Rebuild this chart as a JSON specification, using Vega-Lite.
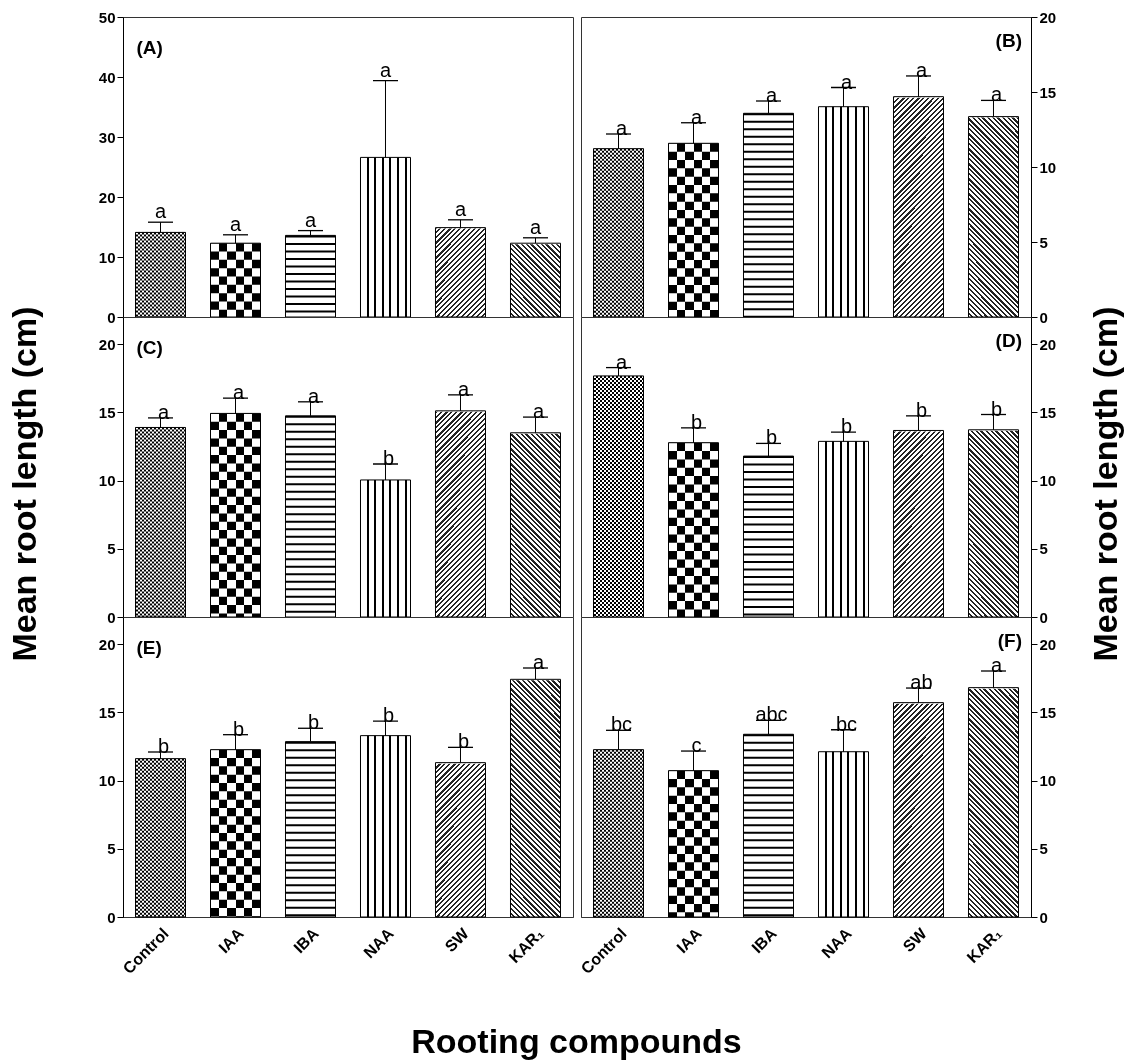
{
"$schema":"https://vega.github.io/schema/vega-lite/v6.json",
"background":"white",
"padding":{"left":8,"top":9,"right":5,"bottom":0},
"title":{"text":"Rooting compounds","orient":"bottom","anchor":"middle","fontSize":34,"offset":49,"dx":10},
"datasets":{
"L":[
{"p":"A","c":"Control","v":14.1,"e":15.8,"l":"a"},
{"p":"A","c":"IAA","v":12.3,"e":13.7,"l":"a"},
{"p":"A","c":"IBA","v":13.6,"e":14.4,"l":"a"},
{"p":"A","c":"NAA","v":26.6,"e":39.4,"l":"a"},
{"p":"A","c":"SW","v":14.9,"e":16.2,"l":"a"},
{"p":"A","c":"KAR₁","v":12.3,"e":13.2,"l":"a"},
{"p":"C","c":"Control","v":13.9,"e":14.6,"l":"a"},
{"p":"C","c":"IAA","v":14.93,"e":16.05,"l":"a"},
{"p":"C","c":"IBA","v":14.75,"e":15.78,"l":"a"},
{"p":"C","c":"NAA","v":10.05,"e":11.22,"l":"b"},
{"p":"C","c":"SW","v":15.12,"e":16.29,"l":"a"},
{"p":"C","c":"KAR₁","v":13.51,"e":14.66,"l":"a"},
{"p":"E","c":"Control","v":11.61,"e":12.1,"l":"b"},
{"p":"E","c":"IAA","v":12.27,"e":13.37,"l":"b"},
{"p":"E","c":"IBA","v":12.86,"e":13.84,"l":"b"},
{"p":"E","c":"NAA","v":13.3,"e":14.37,"l":"b"},
{"p":"E","c":"SW","v":11.32,"e":12.44,"l":"b"},
{"p":"E","c":"KAR₁","v":17.43,"e":18.26,"l":"a"},
{"p":"A","c":"Control","lab":"(A)","ymax":50},
{"p":"C","c":"Control","lab":"(C)","ymax":22},
{"p":"E","c":"Control","lab":"(E)","ymax":22}
],
"R":[
{"p":"B","c":"Control","v":11.22,"e":12.2,"l":"a"},
{"p":"B","c":"IAA","v":11.58,"e":12.95,"l":"a"},
{"p":"B","c":"IBA","v":13.58,"e":14.4,"l":"a"},
{"p":"B","c":"NAA","v":14.02,"e":15.3,"l":"a"},
{"p":"B","c":"SW","v":14.69,"e":16.07,"l":"a"},
{"p":"B","c":"KAR₁","v":13.36,"e":14.44,"l":"a"},
{"p":"D","c":"Control","v":17.68,"e":18.29,"l":"a"},
{"p":"D","c":"IAA","v":12.78,"e":13.87,"l":"b"},
{"p":"D","c":"IBA","v":11.8,"e":12.73,"l":"b"},
{"p":"D","c":"NAA","v":12.88,"e":13.56,"l":"b"},
{"p":"D","c":"SW","v":13.68,"e":14.75,"l":"b"},
{"p":"D","c":"KAR₁","v":13.73,"e":14.85,"l":"b"},
{"p":"F","c":"Control","v":12.27,"e":13.69,"l":"bc"},
{"p":"F","c":"IAA","v":10.73,"e":12.17,"l":"c"},
{"p":"F","c":"IBA","v":13.4,"e":14.42,"l":"abc"},
{"p":"F","c":"NAA","v":12.12,"e":13.73,"l":"bc"},
{"p":"F","c":"SW","v":15.72,"e":16.79,"l":"ab"},
{"p":"F","c":"KAR₁","v":16.82,"e":18.04,"l":"a"},
{"p":"B","c":"KAR₁","lab":"(B)","ymax":20},
{"p":"D","c":"KAR₁","lab":"(D)","ymax":22},
{"p":"F","c":"KAR₁","lab":"(F)","ymax":22}
]
},
"hconcat":[
{
"data":{"name":"L"},
"facet":{"row":{"field":"p","type":"nominal","sort":["A","C","E"],"header":{"labels":false,"title":null}}},
"spacing":0,
"bounds":"flush",
"resolve":{"scale":{"y":"independent"}},
"title":{"text":"Mean root length (cm)","orient":"left","anchor":"middle","fontSize":34,"offset":55,"dx":9},
"spec":{
"width":450,"height":300,
"encoding":{"x":{"field":"c","type":"nominal","sort":["Control","IAA","IBA","NAA","SW","KAR₁"],"title":null,"scale":{"paddingInner":0.3333,"paddingOuter":0.1667},"axis":{"labelAngle":-45,"ticks":false,"labelFontSize":16,"labelPadding":8}}},
"layer":[
{"transform":[{"filter":"datum.c==='SW'&&isValid(datum.v)"}],"mark":{"type":"bar","style":"psw"},"encoding":{"y":{"value":50},"y2":{"value":"height"}}},
{"transform":[{"filter":"datum.c==='KAR₁'&&isValid(datum.v)"}],"mark":{"type":"bar","style":"pkar"},"encoding":{"y":{"value":50},"y2":{"value":"height"}}},
{"transform":[{"filter":"(datum.c==='SW'||datum.c==='KAR₁')&&isValid(datum.v)"}],"mark":{"type":"bar","color":"white","stroke":"white","strokeWidth":2},"encoding":{"y":{"field":"v","type":"quantitative","title":null,"stack":null},"y2":{"value":50}}},
{"transform":[{"filter":"datum.c==='Control'&&isValid(datum.v)"}],"mark":{"type":"bar","style":"pcv"},"encoding":{"y":{"field":"v","type":"quantitative","title":null}}},
{"transform":[{"filter":"datum.c==='IAA'"}],"mark":{"type":"bar","style":"piv"},"encoding":{"y":{"field":"v","type":"quantitative","title":null}}},
{"transform":[{"filter":"datum.c==='NAA'"}],"mark":{"type":"bar","style":"pnaa"},"encoding":{"y":{"field":"v","type":"quantitative","title":null}}},
{"transform":[{"filter":"(datum.c==='Control'||datum.c==='IAA')&&isValid(datum.v)"}],"mark":{"type":"rule","strokeWidth":50,"color":"white","blend":"difference"},"encoding":{"y":{"field":"v","type":"quantitative","title":null},"y2":{"value":"height"},"strokeDash":{"field":"c","type":"nominal","scale":{"domain":["Control","IAA"],"range":[[2,2],[8.333,8.333]]},"legend":null}}},
{"transform":[{"filter":"datum.c==='IBA'"}],"mark":{"type":"rule","strokeWidth":50,"color":"black","strokeDash":[2,5.5]},"encoding":{"y":{"field":"v","type":"quantitative","title":null},"y2":{"value":"height"}}},
{"transform":[{"filter":"isValid(datum.v)"}],"mark":{"type":"bar","fill":"transparent","stroke":"black","strokeWidth":1},"encoding":{"y":{"field":"v","type":"quantitative","title":null,"scale":{"nice":false,"zero":true},"axis":{"orient":"left","tickCount":5}}}},
{"transform":[{"filter":"isValid(datum.v)"}],"mark":{"type":"rule","color":"black","strokeWidth":1},"encoding":{"y":{"field":"v","type":"quantitative","title":null},"y2":{"field":"e"}}},
{"transform":[{"filter":"isValid(datum.v)"}],"mark":{"type":"tick","orient":"horizontal","size":25,"thickness":1.3,"color":"black","opacity":1},"encoding":{"y":{"field":"e","type":"quantitative","title":null}}},
{"transform":[{"filter":"isValid(datum.v)"}],"mark":{"type":"text","fontSize":20,"baseline":"alphabetic","dy":{"expr":"datum.p==='A'?-4:1"},"dx":{"expr":"datum.p==='A'?0:3"}},"encoding":{"y":{"field":"e","type":"quantitative","title":null},"text":{"field":"l","type":"nominal"}}},
{"transform":[{"filter":"isValid(datum.ymax)"}],"mark":{"type":"text","fontSize":19,"fontWeight":"bold","align":"left","baseline":"middle","dx":-24,"dy":30.5},"encoding":{"y":{"field":"ymax","type":"quantitative","title":null},"text":{"field":"lab","type":"nominal"}}}
]
}
},
{
"data":{"name":"R"},
"facet":{"row":{"field":"p","type":"nominal","sort":["B","D","F"],"header":{"labels":false,"title":null}}},
"spacing":0,
"bounds":"flush",
"resolve":{"scale":{"y":"independent"}},
"title":{"text":"Mean root length (cm)","orient":"right","anchor":"middle","fontSize":34,"offset":0,"angle":-90,"baseline":"top","dx":9},
"spec":{
"width":450,"height":300,
"encoding":{"x":{"field":"c","type":"nominal","sort":["Control","IAA","IBA","NAA","SW","KAR₁"],"title":null,"scale":{"paddingInner":0.3333,"paddingOuter":0.1667},"axis":{"labelAngle":-45,"ticks":false,"labelFontSize":16,"labelPadding":8}}},
"layer":[
{"transform":[{"filter":"datum.c==='SW'&&isValid(datum.v)"}],"mark":{"type":"bar","style":"psw"},"encoding":{"y":{"value":50},"y2":{"value":"height"}}},
{"transform":[{"filter":"datum.c==='KAR₁'&&isValid(datum.v)"}],"mark":{"type":"bar","style":"pkar"},"encoding":{"y":{"value":50},"y2":{"value":"height"}}},
{"transform":[{"filter":"(datum.c==='SW'||datum.c==='KAR₁')&&isValid(datum.v)"}],"mark":{"type":"bar","color":"white","stroke":"white","strokeWidth":2},"encoding":{"y":{"field":"v","type":"quantitative","title":null,"stack":null},"y2":{"value":50}}},
{"transform":[{"filter":"datum.c==='Control'&&isValid(datum.v)"}],"mark":{"type":"bar","style":"pcv"},"encoding":{"y":{"field":"v","type":"quantitative","title":null}}},
{"transform":[{"filter":"datum.c==='IAA'"}],"mark":{"type":"bar","style":"piv"},"encoding":{"y":{"field":"v","type":"quantitative","title":null}}},
{"transform":[{"filter":"datum.c==='NAA'"}],"mark":{"type":"bar","style":"pnaa"},"encoding":{"y":{"field":"v","type":"quantitative","title":null}}},
{"transform":[{"filter":"(datum.c==='Control'||datum.c==='IAA')&&isValid(datum.v)"}],"mark":{"type":"rule","strokeWidth":50,"color":"white","blend":"difference"},"encoding":{"y":{"field":"v","type":"quantitative","title":null},"y2":{"value":"height"},"strokeDash":{"field":"c","type":"nominal","scale":{"domain":["Control","IAA"],"range":[[2,2],[8.333,8.333]]},"legend":null}}},
{"transform":[{"filter":"datum.c==='IBA'"}],"mark":{"type":"rule","strokeWidth":50,"color":"black","strokeDash":[2,5.5]},"encoding":{"y":{"field":"v","type":"quantitative","title":null},"y2":{"value":"height"}}},
{"transform":[{"filter":"isValid(datum.v)"}],"mark":{"type":"bar","fill":"transparent","stroke":"black","strokeWidth":1},"encoding":{"y":{"field":"v","type":"quantitative","title":null,"scale":{"nice":false,"zero":true},"axis":{"orient":"right","tickCount":5}}}},
{"transform":[{"filter":"isValid(datum.v)"}],"mark":{"type":"rule","color":"black","strokeWidth":1},"encoding":{"y":{"field":"v","type":"quantitative","title":null},"y2":{"field":"e"}}},
{"transform":[{"filter":"isValid(datum.v)"}],"mark":{"type":"tick","orient":"horizontal","size":25,"thickness":1.3,"color":"black","opacity":1},"encoding":{"y":{"field":"e","type":"quantitative","title":null}}},
{"transform":[{"filter":"isValid(datum.v)"}],"mark":{"type":"text","fontSize":20,"baseline":"alphabetic","dy":1,"dx":3},"encoding":{"y":{"field":"e","type":"quantitative","title":null},"text":{"field":"l","type":"nominal"}}},
{"transform":[{"filter":"isValid(datum.ymax)"}],"mark":{"type":"text","fontSize":19,"fontWeight":"bold","align":"right","baseline":"middle","dx":28.5,"dy":23.5},"encoding":{"y":{"field":"ymax","type":"quantitative","title":null},"text":{"field":"lab","type":"nominal"}}}
]
}
}
],
"spacing":3,
"config":{
"font":"Liberation Sans",
"view":{"stroke":"#333","strokeWidth":1,"fill":"white"},
"axis":{"labelFont":"Liberation Sans","labelFontWeight":"bold","labelFontSize":15,"labelColor":"black","tickColor":"black","domainColor":"black","tickSize":6,"labelPadding":2,"grid":false,"titleFont":"Liberation Sans","titleFontWeight":"bold","titleColor":"black"},
"text":{"font":"Liberation Sans","color":"black"},
"title":{"font":"Liberation Sans","fontWeight":"bold","color":"black"},
"style":{
"pcv":{"color":{"gradient":"linear","x1":0,"y1":0,"x2":1,"y2":0,"stops":[{"offset":0,"color":"#000"},{"offset":0.04,"color":"#000"},{"offset":0.04,"color":"#fff"},{"offset":0.08,"color":"#fff"},{"offset":0.08,"color":"#000"},{"offset":0.12,"color":"#000"},{"offset":0.12,"color":"#fff"},{"offset":0.16,"color":"#fff"},{"offset":0.16,"color":"#000"},{"offset":0.2,"color":"#000"},{"offset":0.2,"color":"#fff"},{"offset":0.24,"color":"#fff"},{"offset":0.24,"color":"#000"},{"offset":0.28,"color":"#000"},{"offset":0.28,"color":"#fff"},{"offset":0.32,"color":"#fff"},{"offset":0.32,"color":"#000"},{"offset":0.36,"color":"#000"},{"offset":0.36,"color":"#fff"},{"offset":0.4,"color":"#fff"},{"offset":0.4,"color":"#000"},{"offset":0.44,"color":"#000"},{"offset":0.44,"color":"#fff"},{"offset":0.48,"color":"#fff"},{"offset":0.48,"color":"#000"},{"offset":0.52,"color":"#000"},{"offset":0.52,"color":"#fff"},{"offset":0.56,"color":"#fff"},{"offset":0.56,"color":"#000"},{"offset":0.6,"color":"#000"},{"offset":0.6,"color":"#fff"},{"offset":0.64,"color":"#fff"},{"offset":0.64,"color":"#000"},{"offset":0.68,"color":"#000"},{"offset":0.68,"color":"#fff"},{"offset":0.72,"color":"#fff"},{"offset":0.72,"color":"#000"},{"offset":0.76,"color":"#000"},{"offset":0.76,"color":"#fff"},{"offset":0.8,"color":"#fff"},{"offset":0.8,"color":"#000"},{"offset":0.84,"color":"#000"},{"offset":0.84,"color":"#fff"},{"offset":0.88,"color":"#fff"},{"offset":0.88,"color":"#000"},{"offset":0.92,"color":"#000"},{"offset":0.92,"color":"#fff"},{"offset":0.96,"color":"#fff"},{"offset":0.96,"color":"#000"},{"offset":1,"color":"#000"}]}},
"piv":{"color":{"gradient":"linear","x1":0,"y1":0,"x2":1,"y2":0,"stops":[{"offset":0,"color":"#000"},{"offset":0.1667,"color":"#000"},{"offset":0.1667,"color":"#fff"},{"offset":0.3333,"color":"#fff"},{"offset":0.3333,"color":"#000"},{"offset":0.5,"color":"#000"},{"offset":0.5,"color":"#fff"},{"offset":0.6667,"color":"#fff"},{"offset":0.6667,"color":"#000"},{"offset":0.8333,"color":"#000"},{"offset":0.8333,"color":"#fff"},{"offset":1,"color":"#fff"}]}},
"pnaa":{"color":{"gradient":"linear","x1":0,"y1":0,"x2":1,"y2":0,"stops":[{"offset":0,"color":"#fff"},{"offset":0.13,"color":"#fff"},{"offset":0.13,"color":"#000"},{"offset":0.17,"color":"#000"},{"offset":0.17,"color":"#fff"},{"offset":0.28,"color":"#fff"},{"offset":0.28,"color":"#000"},{"offset":0.32,"color":"#000"},{"offset":0.32,"color":"#fff"},{"offset":0.43,"color":"#fff"},{"offset":0.43,"color":"#000"},{"offset":0.47,"color":"#000"},{"offset":0.47,"color":"#fff"},{"offset":0.58,"color":"#fff"},{"offset":0.58,"color":"#000"},{"offset":0.62,"color":"#000"},{"offset":0.62,"color":"#fff"},{"offset":0.73,"color":"#fff"},{"offset":0.73,"color":"#000"},{"offset":0.77,"color":"#000"},{"offset":0.77,"color":"#fff"},{"offset":0.88,"color":"#fff"},{"offset":0.88,"color":"#000"},{"offset":0.92,"color":"#000"},{"offset":0.92,"color":"#fff"},{"offset":1,"color":"#fff"}]}},
"psw":{"color":{"gradient":"linear","x1":0,"y1":0,"x2":0.2308,"y2":1.1538,"stops":[{"offset":0,"color":"#fff"},
{"offset":0.1,"color":"#fff"},{"offset":0.1,"color":"#222"},{"offset":0.1083,"color":"#222"},{"offset":0.1083,"color":"#fff"},
{"offset":0.1167,"color":"#fff"},{"offset":0.1167,"color":"#222"},{"offset":0.125,"color":"#222"},{"offset":0.125,"color":"#fff"},
{"offset":0.1333,"color":"#fff"},{"offset":0.1333,"color":"#222"},{"offset":0.1417,"color":"#222"},{"offset":0.1417,"color":"#fff"},
{"offset":0.15,"color":"#fff"},{"offset":0.15,"color":"#222"},{"offset":0.1583,"color":"#222"},{"offset":0.1583,"color":"#fff"},
{"offset":0.1667,"color":"#fff"},{"offset":0.1667,"color":"#222"},{"offset":0.175,"color":"#222"},{"offset":0.175,"color":"#fff"},
{"offset":0.1833,"color":"#fff"},{"offset":0.1833,"color":"#222"},{"offset":0.1917,"color":"#222"},{"offset":0.1917,"color":"#fff"},
{"offset":0.2,"color":"#fff"},{"offset":0.2,"color":"#222"},{"offset":0.2083,"color":"#222"},{"offset":0.2083,"color":"#fff"},
{"offset":0.2167,"color":"#fff"},{"offset":0.2167,"color":"#222"},{"offset":0.225,"color":"#222"},{"offset":0.225,"color":"#fff"},
{"offset":0.2333,"color":"#fff"},{"offset":0.2333,"color":"#222"},{"offset":0.2417,"color":"#222"},{"offset":0.2417,"color":"#fff"},
{"offset":0.25,"color":"#fff"},{"offset":0.25,"color":"#222"},{"offset":0.2583,"color":"#222"},{"offset":0.2583,"color":"#fff"},
{"offset":0.2667,"color":"#fff"},{"offset":0.2667,"color":"#222"},{"offset":0.275,"color":"#222"},{"offset":0.275,"color":"#fff"},
{"offset":0.2833,"color":"#fff"},{"offset":0.2833,"color":"#222"},{"offset":0.2917,"color":"#222"},{"offset":0.2917,"color":"#fff"},
{"offset":0.3,"color":"#fff"},{"offset":0.3,"color":"#222"},{"offset":0.3083,"color":"#222"},{"offset":0.3083,"color":"#fff"},
{"offset":0.3167,"color":"#fff"},{"offset":0.3167,"color":"#222"},{"offset":0.325,"color":"#222"},{"offset":0.325,"color":"#fff"},
{"offset":0.3333,"color":"#fff"},{"offset":0.3333,"color":"#222"},{"offset":0.3417,"color":"#222"},{"offset":0.3417,"color":"#fff"},
{"offset":0.35,"color":"#fff"},{"offset":0.35,"color":"#222"},{"offset":0.3583,"color":"#222"},{"offset":0.3583,"color":"#fff"},
{"offset":0.3667,"color":"#fff"},{"offset":0.3667,"color":"#222"},{"offset":0.375,"color":"#222"},{"offset":0.375,"color":"#fff"},
{"offset":0.3833,"color":"#fff"},{"offset":0.3833,"color":"#222"},{"offset":0.3917,"color":"#222"},{"offset":0.3917,"color":"#fff"},
{"offset":0.4,"color":"#fff"},{"offset":0.4,"color":"#222"},{"offset":0.4083,"color":"#222"},{"offset":0.4083,"color":"#fff"},
{"offset":0.4167,"color":"#fff"},{"offset":0.4167,"color":"#222"},{"offset":0.425,"color":"#222"},{"offset":0.425,"color":"#fff"},
{"offset":0.4333,"color":"#fff"},{"offset":0.4333,"color":"#222"},{"offset":0.4417,"color":"#222"},{"offset":0.4417,"color":"#fff"},
{"offset":0.45,"color":"#fff"},{"offset":0.45,"color":"#222"},{"offset":0.4583,"color":"#222"},{"offset":0.4583,"color":"#fff"},
{"offset":0.4667,"color":"#fff"},{"offset":0.4667,"color":"#222"},{"offset":0.475,"color":"#222"},{"offset":0.475,"color":"#fff"},
{"offset":0.4833,"color":"#fff"},{"offset":0.4833,"color":"#222"},{"offset":0.4917,"color":"#222"},{"offset":0.4917,"color":"#fff"},
{"offset":0.5,"color":"#fff"},{"offset":0.5,"color":"#222"},{"offset":0.5083,"color":"#222"},{"offset":0.5083,"color":"#fff"},
{"offset":0.5167,"color":"#fff"},{"offset":0.5167,"color":"#222"},{"offset":0.525,"color":"#222"},{"offset":0.525,"color":"#fff"},
{"offset":0.5333,"color":"#fff"},{"offset":0.5333,"color":"#222"},{"offset":0.5417,"color":"#222"},{"offset":0.5417,"color":"#fff"},
{"offset":0.55,"color":"#fff"},{"offset":0.55,"color":"#222"},{"offset":0.5583,"color":"#222"},{"offset":0.5583,"color":"#fff"},
{"offset":0.5667,"color":"#fff"},{"offset":0.5667,"color":"#222"},{"offset":0.575,"color":"#222"},{"offset":0.575,"color":"#fff"},
{"offset":0.5833,"color":"#fff"},{"offset":0.5833,"color":"#222"},{"offset":0.5917,"color":"#222"},{"offset":0.5917,"color":"#fff"},
{"offset":0.6,"color":"#fff"},{"offset":0.6,"color":"#222"},{"offset":0.6083,"color":"#222"},{"offset":0.6083,"color":"#fff"},
{"offset":0.6167,"color":"#fff"},{"offset":0.6167,"color":"#222"},{"offset":0.625,"color":"#222"},{"offset":0.625,"color":"#fff"},
{"offset":0.6333,"color":"#fff"},{"offset":0.6333,"color":"#222"},{"offset":0.6417,"color":"#222"},{"offset":0.6417,"color":"#fff"},
{"offset":0.65,"color":"#fff"},{"offset":0.65,"color":"#222"},{"offset":0.6583,"color":"#222"},{"offset":0.6583,"color":"#fff"},
{"offset":0.6667,"color":"#fff"},{"offset":0.6667,"color":"#222"},{"offset":0.675,"color":"#222"},{"offset":0.675,"color":"#fff"},
{"offset":0.6833,"color":"#fff"},{"offset":0.6833,"color":"#222"},{"offset":0.6917,"color":"#222"},{"offset":0.6917,"color":"#fff"},
{"offset":0.7,"color":"#fff"},{"offset":0.7,"color":"#222"},{"offset":0.7083,"color":"#222"},{"offset":0.7083,"color":"#fff"},
{"offset":0.7167,"color":"#fff"},{"offset":0.7167,"color":"#222"},{"offset":0.725,"color":"#222"},{"offset":0.725,"color":"#fff"},
{"offset":0.7333,"color":"#fff"},{"offset":0.7333,"color":"#222"},{"offset":0.7417,"color":"#222"},{"offset":0.7417,"color":"#fff"},
{"offset":0.75,"color":"#fff"},{"offset":0.75,"color":"#222"},{"offset":0.7583,"color":"#222"},{"offset":0.7583,"color":"#fff"},
{"offset":0.7667,"color":"#fff"},{"offset":0.7667,"color":"#222"},{"offset":0.775,"color":"#222"},{"offset":0.775,"color":"#fff"},
{"offset":0.7833,"color":"#fff"},{"offset":0.7833,"color":"#222"},{"offset":0.7917,"color":"#222"},{"offset":0.7917,"color":"#fff"},
{"offset":0.8,"color":"#fff"},{"offset":0.8,"color":"#222"},{"offset":0.8083,"color":"#222"},{"offset":0.8083,"color":"#fff"},
{"offset":0.8167,"color":"#fff"},{"offset":0.8167,"color":"#222"},{"offset":0.825,"color":"#222"},{"offset":0.825,"color":"#fff"},
{"offset":0.8333,"color":"#fff"},{"offset":0.8333,"color":"#222"},{"offset":0.8417,"color":"#222"},{"offset":0.8417,"color":"#fff"},
{"offset":0.85,"color":"#fff"},{"offset":0.85,"color":"#222"},{"offset":0.8583,"color":"#222"},{"offset":0.8583,"color":"#fff"},
{"offset":0.8667,"color":"#fff"},{"offset":0.8667,"color":"#222"},{"offset":0.875,"color":"#222"},{"offset":0.875,"color":"#fff"},
{"offset":0.8833,"color":"#fff"},{"offset":0.8833,"color":"#222"},{"offset":0.8917,"color":"#222"},{"offset":0.8917,"color":"#fff"},
{"offset":0.9,"color":"#fff"},{"offset":0.9,"color":"#222"},{"offset":0.9083,"color":"#222"},{"offset":0.9083,"color":"#fff"},
{"offset":0.9167,"color":"#fff"},{"offset":0.9167,"color":"#222"},{"offset":0.925,"color":"#222"},{"offset":0.925,"color":"#fff"},
{"offset":0.9333,"color":"#fff"},{"offset":0.9333,"color":"#222"},{"offset":0.9417,"color":"#222"},{"offset":0.9417,"color":"#fff"},
{"offset":0.95,"color":"#fff"},{"offset":0.95,"color":"#222"},{"offset":0.9583,"color":"#222"},{"offset":0.9583,"color":"#fff"},
{"offset":0.9667,"color":"#fff"},{"offset":0.9667,"color":"#222"},{"offset":0.975,"color":"#222"},{"offset":0.975,"color":"#fff"},
{"offset":0.9833,"color":"#fff"},{"offset":0.9833,"color":"#222"},{"offset":0.9917,"color":"#222"},{"offset":0.9917,"color":"#fff"},
{"offset":1,"color":"#fff"}]}},
"pkar":{"color":{"gradient":"linear","x1":1,"y1":0,"x2":0.7692,"y2":1.1538,"stops":[{"offset":0,"color":"#fff"},
{"offset":0.0333,"color":"#fff"},{"offset":0.0333,"color":"#222"},{"offset":0.0417,"color":"#222"},{"offset":0.0417,"color":"#fff"},
{"offset":0.05,"color":"#fff"},{"offset":0.05,"color":"#222"},{"offset":0.0583,"color":"#222"},{"offset":0.0583,"color":"#fff"},
{"offset":0.0667,"color":"#fff"},{"offset":0.0667,"color":"#222"},{"offset":0.075,"color":"#222"},{"offset":0.075,"color":"#fff"},
{"offset":0.0833,"color":"#fff"},{"offset":0.0833,"color":"#222"},{"offset":0.0917,"color":"#222"},{"offset":0.0917,"color":"#fff"},
{"offset":0.1,"color":"#fff"},{"offset":0.1,"color":"#222"},{"offset":0.1083,"color":"#222"},{"offset":0.1083,"color":"#fff"},
{"offset":0.1167,"color":"#fff"},{"offset":0.1167,"color":"#222"},{"offset":0.125,"color":"#222"},{"offset":0.125,"color":"#fff"},
{"offset":0.1333,"color":"#fff"},{"offset":0.1333,"color":"#222"},{"offset":0.1417,"color":"#222"},{"offset":0.1417,"color":"#fff"},
{"offset":0.15,"color":"#fff"},{"offset":0.15,"color":"#222"},{"offset":0.1583,"color":"#222"},{"offset":0.1583,"color":"#fff"},
{"offset":0.1667,"color":"#fff"},{"offset":0.1667,"color":"#222"},{"offset":0.175,"color":"#222"},{"offset":0.175,"color":"#fff"},
{"offset":0.1833,"color":"#fff"},{"offset":0.1833,"color":"#222"},{"offset":0.1917,"color":"#222"},{"offset":0.1917,"color":"#fff"},
{"offset":0.2,"color":"#fff"},{"offset":0.2,"color":"#222"},{"offset":0.2083,"color":"#222"},{"offset":0.2083,"color":"#fff"},
{"offset":0.2167,"color":"#fff"},{"offset":0.2167,"color":"#222"},{"offset":0.225,"color":"#222"},{"offset":0.225,"color":"#fff"},
{"offset":0.2333,"color":"#fff"},{"offset":0.2333,"color":"#222"},{"offset":0.2417,"color":"#222"},{"offset":0.2417,"color":"#fff"},
{"offset":0.25,"color":"#fff"},{"offset":0.25,"color":"#222"},{"offset":0.2583,"color":"#222"},{"offset":0.2583,"color":"#fff"},
{"offset":0.2667,"color":"#fff"},{"offset":0.2667,"color":"#222"},{"offset":0.275,"color":"#222"},{"offset":0.275,"color":"#fff"},
{"offset":0.2833,"color":"#fff"},{"offset":0.2833,"color":"#222"},{"offset":0.2917,"color":"#222"},{"offset":0.2917,"color":"#fff"},
{"offset":0.3,"color":"#fff"},{"offset":0.3,"color":"#222"},{"offset":0.3083,"color":"#222"},{"offset":0.3083,"color":"#fff"},
{"offset":0.3167,"color":"#fff"},{"offset":0.3167,"color":"#222"},{"offset":0.325,"color":"#222"},{"offset":0.325,"color":"#fff"},
{"offset":0.3333,"color":"#fff"},{"offset":0.3333,"color":"#222"},{"offset":0.3417,"color":"#222"},{"offset":0.3417,"color":"#fff"},
{"offset":0.35,"color":"#fff"},{"offset":0.35,"color":"#222"},{"offset":0.3583,"color":"#222"},{"offset":0.3583,"color":"#fff"},
{"offset":0.3667,"color":"#fff"},{"offset":0.3667,"color":"#222"},{"offset":0.375,"color":"#222"},{"offset":0.375,"color":"#fff"},
{"offset":0.3833,"color":"#fff"},{"offset":0.3833,"color":"#222"},{"offset":0.3917,"color":"#222"},{"offset":0.3917,"color":"#fff"},
{"offset":0.4,"color":"#fff"},{"offset":0.4,"color":"#222"},{"offset":0.4083,"color":"#222"},{"offset":0.4083,"color":"#fff"},
{"offset":0.4167,"color":"#fff"},{"offset":0.4167,"color":"#222"},{"offset":0.425,"color":"#222"},{"offset":0.425,"color":"#fff"},
{"offset":0.4333,"color":"#fff"},{"offset":0.4333,"color":"#222"},{"offset":0.4417,"color":"#222"},{"offset":0.4417,"color":"#fff"},
{"offset":0.45,"color":"#fff"},{"offset":0.45,"color":"#222"},{"offset":0.4583,"color":"#222"},{"offset":0.4583,"color":"#fff"},
{"offset":0.4667,"color":"#fff"},{"offset":0.4667,"color":"#222"},{"offset":0.475,"color":"#222"},{"offset":0.475,"color":"#fff"},
{"offset":0.4833,"color":"#fff"},{"offset":0.4833,"color":"#222"},{"offset":0.4917,"color":"#222"},{"offset":0.4917,"color":"#fff"},
{"offset":0.5,"color":"#fff"},{"offset":0.5,"color":"#222"},{"offset":0.5083,"color":"#222"},{"offset":0.5083,"color":"#fff"},
{"offset":0.5167,"color":"#fff"},{"offset":0.5167,"color":"#222"},{"offset":0.525,"color":"#222"},{"offset":0.525,"color":"#fff"},
{"offset":0.5333,"color":"#fff"},{"offset":0.5333,"color":"#222"},{"offset":0.5417,"color":"#222"},{"offset":0.5417,"color":"#fff"},
{"offset":0.55,"color":"#fff"},{"offset":0.55,"color":"#222"},{"offset":0.5583,"color":"#222"},{"offset":0.5583,"color":"#fff"},
{"offset":0.5667,"color":"#fff"},{"offset":0.5667,"color":"#222"},{"offset":0.575,"color":"#222"},{"offset":0.575,"color":"#fff"},
{"offset":0.5833,"color":"#fff"},{"offset":0.5833,"color":"#222"},{"offset":0.5917,"color":"#222"},{"offset":0.5917,"color":"#fff"},
{"offset":0.6,"color":"#fff"},{"offset":0.6,"color":"#222"},{"offset":0.6083,"color":"#222"},{"offset":0.6083,"color":"#fff"},
{"offset":0.6167,"color":"#fff"},{"offset":0.6167,"color":"#222"},{"offset":0.625,"color":"#222"},{"offset":0.625,"color":"#fff"},
{"offset":0.6333,"color":"#fff"},{"offset":0.6333,"color":"#222"},{"offset":0.6417,"color":"#222"},{"offset":0.6417,"color":"#fff"},
{"offset":0.65,"color":"#fff"},{"offset":0.65,"color":"#222"},{"offset":0.6583,"color":"#222"},{"offset":0.6583,"color":"#fff"},
{"offset":0.6667,"color":"#fff"},{"offset":0.6667,"color":"#222"},{"offset":0.675,"color":"#222"},{"offset":0.675,"color":"#fff"},
{"offset":0.6833,"color":"#fff"},{"offset":0.6833,"color":"#222"},{"offset":0.6917,"color":"#222"},{"offset":0.6917,"color":"#fff"},
{"offset":0.7,"color":"#fff"},{"offset":0.7,"color":"#222"},{"offset":0.7083,"color":"#222"},{"offset":0.7083,"color":"#fff"},
{"offset":0.7167,"color":"#fff"},{"offset":0.7167,"color":"#222"},{"offset":0.725,"color":"#222"},{"offset":0.725,"color":"#fff"},
{"offset":0.7333,"color":"#fff"},{"offset":0.7333,"color":"#222"},{"offset":0.7417,"color":"#222"},{"offset":0.7417,"color":"#fff"},
{"offset":0.75,"color":"#fff"},{"offset":0.75,"color":"#222"},{"offset":0.7583,"color":"#222"},{"offset":0.7583,"color":"#fff"},
{"offset":0.7667,"color":"#fff"},{"offset":0.7667,"color":"#222"},{"offset":0.775,"color":"#222"},{"offset":0.775,"color":"#fff"},
{"offset":0.7833,"color":"#fff"},{"offset":0.7833,"color":"#222"},{"offset":0.7917,"color":"#222"},{"offset":0.7917,"color":"#fff"},
{"offset":0.8,"color":"#fff"},{"offset":0.8,"color":"#222"},{"offset":0.8083,"color":"#222"},{"offset":0.8083,"color":"#fff"},
{"offset":0.8167,"color":"#fff"},{"offset":0.8167,"color":"#222"},{"offset":0.825,"color":"#222"},{"offset":0.825,"color":"#fff"},
{"offset":0.8333,"color":"#fff"},{"offset":0.8333,"color":"#222"},{"offset":0.8417,"color":"#222"},{"offset":0.8417,"color":"#fff"},
{"offset":0.85,"color":"#fff"},{"offset":0.85,"color":"#222"},{"offset":0.8583,"color":"#222"},{"offset":0.8583,"color":"#fff"},
{"offset":0.8667,"color":"#fff"},{"offset":0.8667,"color":"#222"},{"offset":0.875,"color":"#222"},{"offset":0.875,"color":"#fff"},
{"offset":0.8833,"color":"#fff"},{"offset":0.8833,"color":"#222"},{"offset":0.8917,"color":"#222"},{"offset":0.8917,"color":"#fff"},
{"offset":0.9,"color":"#fff"},{"offset":0.9,"color":"#222"},{"offset":0.9083,"color":"#222"},{"offset":0.9083,"color":"#fff"},
{"offset":0.9167,"color":"#fff"},{"offset":0.9167,"color":"#222"},{"offset":0.925,"color":"#222"},{"offset":0.925,"color":"#fff"},
{"offset":0.9333,"color":"#fff"},{"offset":0.9333,"color":"#222"},{"offset":0.9417,"color":"#222"},{"offset":0.9417,"color":"#fff"},
{"offset":0.95,"color":"#fff"},{"offset":0.95,"color":"#222"},{"offset":0.9583,"color":"#222"},{"offset":0.9583,"color":"#fff"},
{"offset":0.9667,"color":"#fff"},{"offset":0.9667,"color":"#222"},{"offset":0.975,"color":"#222"},{"offset":0.975,"color":"#fff"},
{"offset":0.9833,"color":"#fff"},{"offset":0.9833,"color":"#222"},{"offset":0.9917,"color":"#222"},{"offset":0.9917,"color":"#fff"},
{"offset":1,"color":"#fff"}]}}
}
}
}
